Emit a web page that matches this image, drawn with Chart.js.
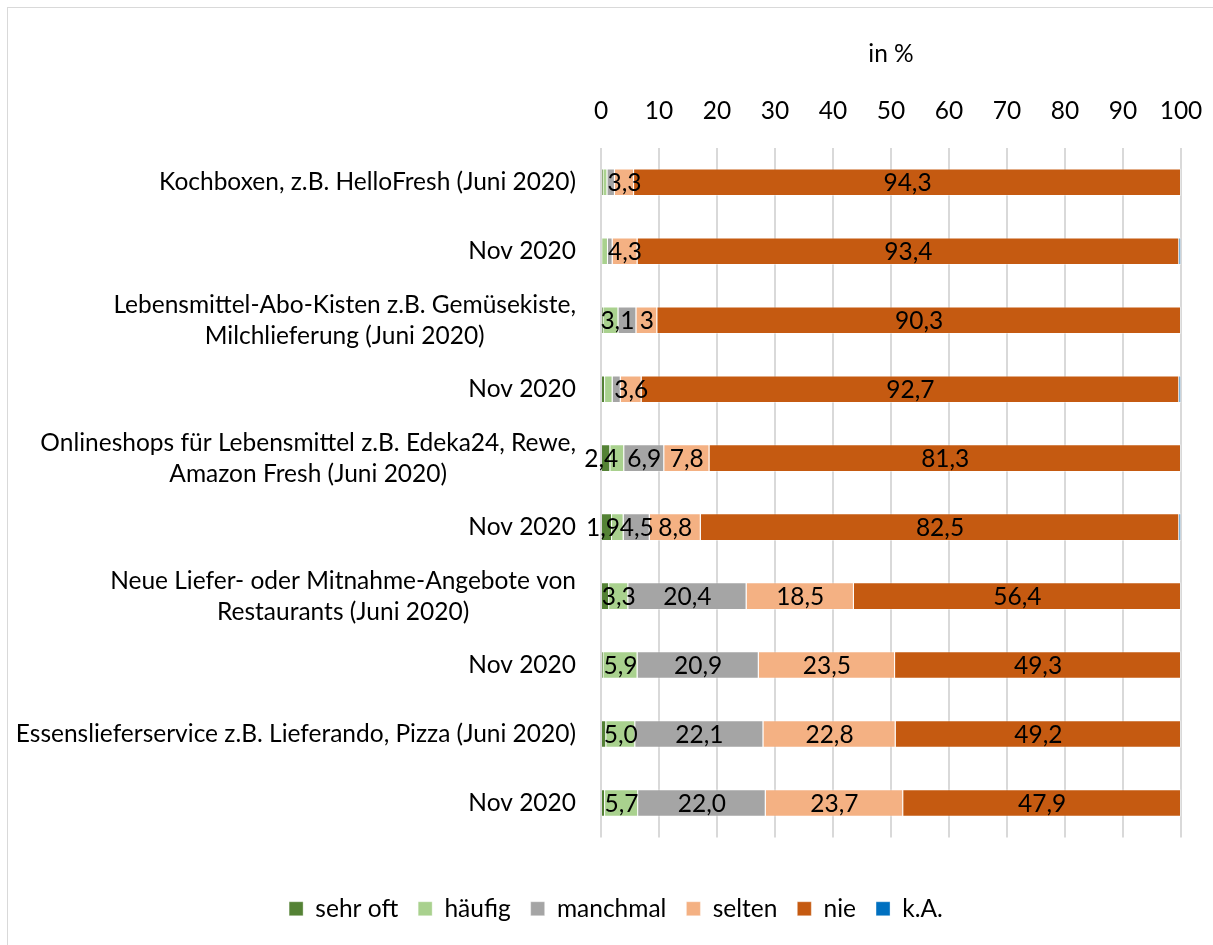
<!DOCTYPE html>
<html>
<head>
<meta charset="utf-8">
<script src="https://cdn.jsdelivr.net/npm/chart.js@4.4.0/dist/chart.umd.min.js"></script>
<style>
  html, body { margin: 0; padding: 0; background: #fff; overflow: hidden; }
</style>
</head>
<body>
<canvas id="chart" width="1213" height="945"></canvas>
<script>
const categories = [
    "Kochboxen, z.B. HelloFresh (Juni 2020)",
    "Nov 2020",
    ["Lebensmittel-Abo-Kisten z.B. Gemüsekiste,", "Milchlieferung (Juni 2020)"],
    "Nov 2020",
    ["Onlineshops für Lebensmittel z.B. Edeka24, Rewe,", "Amazon Fresh (Juni 2020)"],
    "Nov 2020",
    ["Neue Liefer- oder Mitnahme-Angebote von", "Restaurants (Juni 2020)"],
    "Nov 2020",
    "Essenslieferservice z.B. Lieferando, Pizza (Juni 2020)",
    "Nov 2020"
];

const sehrOft  = [0.4, 0.2, 0.4, 0.7, 1.6, 1.9, 1.4, 0.4, 0.9, 0.7];
const haeufig  = [0.7, 1.0, 2.6, 1.3, 2.4, 2.0, 3.3, 5.9, 5.0, 5.7];
const manchmal = [1.3, 0.8, 3.1, 1.4, 6.9, 4.5, 20.4, 20.9, 22.1, 22.0];
const selten   = [3.3, 4.3, 3.6, 3.6, 7.8, 8.8, 18.5, 23.5, 22.8, 23.7];
const nie      = [94.3, 93.4, 90.3, 92.7, 81.3, 82.5, 56.4, 49.3, 49.2, 47.9];
const keineAng = [0, 0.3, 0, 0.3, 0, 0.3, 0, 0, 0, 0];

// data labels as printed in the picture (null = not shown)
const sehrOftLabels  = [null, null, null, null, null, "1,9", null, null, null, null];
const haeufigLabels  = [null, null, null, null, "2,4", null, "3,3", "5,9", "5,0", "5,7"];
const manchmalLabels = [null, null, "3,1", null, "6,9", "4,5", "20,4", "20,9", "22,1", "22,0"];
const seltenLabels   = ["3,3", "4,3", "3", "3,6", "7,8", "8,8", "18,5", "23,5", "22,8", "23,7"];
const nieLabels      = ["94,3", "93,4", "90,3", "92,7", "81,3", "82,5", "56,4", "49,3", "49,2", "47,9"];
const keineLabels    = [null, null, null, null, null, null, null, null, null, null];

const xTicks = [0, 10, 20, 30, 40, 50, 60, 70, 80, 90, 100];

const FONT = "Lato";
const FS = 24.5;

// small manual shifts of labels that overlap (dataset-row: dx)
const nudges = { "0-5": -4, "1-4": -16, "2-2": -10 };

const frame = {
    id: "frame",
    beforeDraw(chart) {
        const c = chart.ctx;
        c.save();
        c.strokeStyle = "#d9d9d9";
        c.lineWidth = 1;
        c.strokeRect(7.5, 7.5, 1215, 960);
        c.restore();
    }
};

// legend sits a bit right of the canvas centre in the original
const legendShift = {
    id: "legendShift",
    afterLayout(chart) {
        chart.legend.left += 18;
        chart.legend.right += 18;
    }
};

const barLabels = {
    id: "barLabels",
    afterDatasetsDraw(chart) {
        const c = chart.ctx;
        c.save();
        c.font = FS + "px " + FONT;
        c.fillStyle = "#000";
        c.textAlign = "center";
        c.textBaseline = "middle";
        chart.data.datasets.forEach((ds, di) => {
            const meta = chart.getDatasetMeta(di);
            meta.data.forEach((el, i) => {
                const txt = ds.labelTexts[i];
                if (!txt) return;
                const dx = nudges[di + "-" + i] || 0;
                c.fillText(txt, (el.x + el.base) / 2 + dx, el.y + 1);
            });
        });
        c.restore();
    }
};

// axis texts drawn by hand so that lines can be centred and placed freely
const axisLabels = {
    id: "axisLabels",
    afterDraw(chart) {
        const c = chart.ctx;
        const ys = chart.scales.y;
        const xs = chart.scales.x;
        const area = chart.chartArea;
        const right = area.left - 25;
        const lh = 31;
        c.save();
        c.font = FS + "px " + FONT;
        c.fillStyle = "#000";
        c.textAlign = "center";
        c.textBaseline = "middle";
        categories.forEach((lab, i) => {
            const lines = Array.isArray(lab) ? lab : [lab];
            const w = Math.max(...lines.map(l => c.measureText(l).width));
            const cx = right - w / 2;
            const y0 = ys.getPixelForTick(i) - (lines.length - 1) * lh / 2;
            lines.forEach((l, k) => c.fillText(l, cx, y0 + k * lh));
        });
        xTicks.forEach(v => {
            c.fillText(String(v), xs.getPixelForValue(v), area.top - 37);
        });
        c.restore();
    }
};

function makeSet(label, data, texts, color) {
    return {
        label,
        data,
        labelTexts: texts,
        backgroundColor: color,
        borderColor: "rgba(255,255,255,0.35)",
        borderWidth: 1,
        barPercentage: 0.4,
        categoryPercentage: 1
    };
}

new Chart(document.getElementById("chart"), {
    type: "bar",
    data: {
        labels: categories,
        datasets: [
            makeSet("sehr oft", sehrOft, sehrOftLabels, "#548235"),
            makeSet("häufig", haeufig, haeufigLabels, "#a9d18e"),
            makeSet("manchmal", manchmal, manchmalLabels, "#a5a5a5"),
            makeSet("selten", selten, seltenLabels, "#f4b183"),
            makeSet("nie", nie, nieLabels, "#c55a11"),
            makeSet("k.A.", keineAng, keineLabels, "#0070c0")
        ]
    },
    plugins: [frame, legendShift, barLabels, axisLabels],
    options: {
        indexAxis: "y",
        responsive: false,
        animation: false,
        devicePixelRatio: 1,
        layout: { padding: { top: 39, right: 32, left: 15, bottom: 14 } },
        plugins: {
            tooltip: { enabled: false },
            legend: {
                position: "bottom",
                title: {
                    display: true,
                    text: " ",
                    font: { size: 10 },
                    padding: { top: 27, bottom: 0 }
                },
                labels: {
                    font: { family: FONT, size: FS },
                    color: "#000",
                    boxWidth: 14,
                    boxHeight: 14,
                    padding: 20
                }
            }
        },
        scales: {
            x: {
                position: "top",
                stacked: true,
                min: 0,
                max: 100,
                afterBuildTicks(axis) {
                    axis.ticks = xTicks.map(v => ({ value: v }));
                },
                afterFit(axis) {
                    axis.paddingLeft = 0;
                    axis.paddingRight = 0;
                },
                ticks: {
                    font: { family: FONT, size: FS },
                    color: "rgba(0,0,0,0)",
                    padding: 19
                },
                grid: { color: "#d9d9d9", lineWidth: 2, drawTicks: false },
                border: { display: false },
                title: {
                    display: true,
                    text: "in %",
                    font: { family: FONT, size: FS },
                    color: "#000",
                    padding: { top: 0, bottom: 12 }
                }
            },
            y: {
                stacked: true,
                afterFit(axis) {
                    axis.width = 586;
                },
                ticks: {
                    font: { family: FONT, size: FS },
                    color: "rgba(0,0,0,0)",
                    padding: 25
                },
                grid: { display: false },
                border: { display: false }
            }
        }
    }
});
</script>
</body>
</html>
